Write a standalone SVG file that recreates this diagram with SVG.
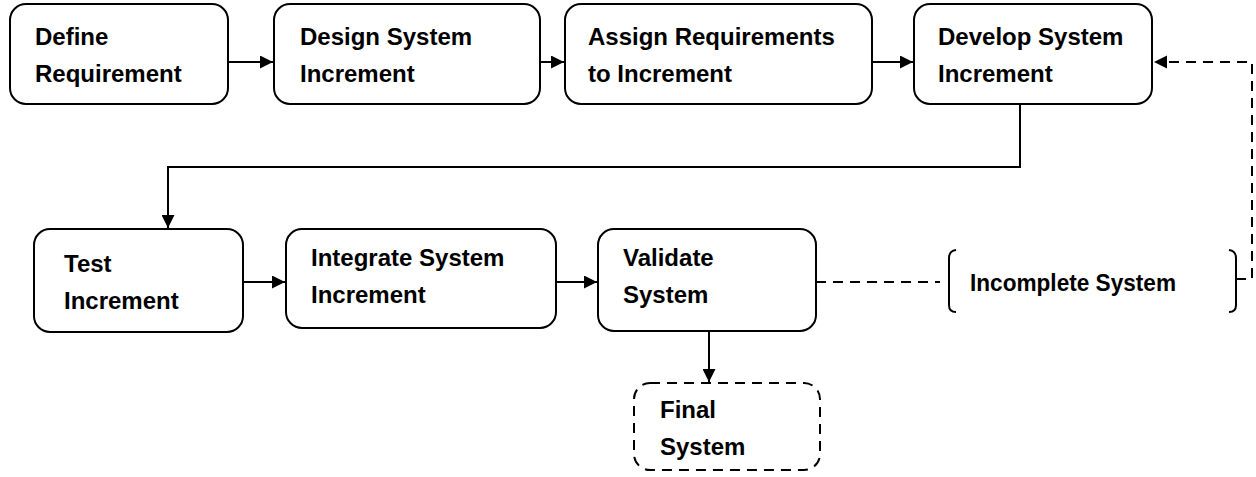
<svg xmlns="http://www.w3.org/2000/svg" width="1256" height="477" viewBox="0 0 1256 477">
<style>
.box{fill:#fff;stroke:#000;stroke-width:2}
.dbox{fill:#fff;stroke:#000;stroke-width:2;stroke-dasharray:10 7}
.t{font-family:"Liberation Sans",Arial,sans-serif;font-weight:bold;font-size:24px;fill:#000}
.ln{fill:none;stroke:#000;stroke-width:2}
.dl{fill:none;stroke:#000;stroke-width:2;stroke-dasharray:10 7}
</style>
<defs>
<marker id="ah" viewBox="0 0 13 13" refX="13" refY="6.5" markerWidth="13" markerHeight="13" markerUnits="userSpaceOnUse" orient="auto">
<path d="M0,0 L13,6.5 L0,13 Z" fill="#000"/>
</marker>
</defs>
<g id="connectors">
<line class="ln" x1="228" y1="62" x2="273" y2="62" marker-end="url(#ah)"/>
<line class="ln" x1="540" y1="62" x2="564" y2="62" marker-end="url(#ah)"/>
<line class="ln" x1="872" y1="62" x2="913" y2="62" marker-end="url(#ah)"/>
<polyline class="ln" points="1020,104 1020,167 168,167 168,228" marker-end="url(#ah)"/>
<line class="ln" x1="243" y1="282" x2="285" y2="282" marker-end="url(#ah)"/>
<line class="ln" x1="556" y1="282" x2="597" y2="282" marker-end="url(#ah)"/>
<line class="ln" x1="709" y1="331" x2="709" y2="382" marker-end="url(#ah)"/>
<line class="dl" x1="816" y1="282" x2="940" y2="282"/>
<polyline class="dl" points="1236,279 1252,279 1252,62 1158,62"/>
<path d="M1167,55.5 L1154,62 L1167,68.5 Z" fill="#000"/>
</g>
<g id="n1"><rect class="box" x="10" y="4" width="218" height="100" rx="16"/><text class="t" x="35" y="45">Define</text><text class="t" x="35" y="82">Requirement</text></g>
<g id="n2"><rect class="box" x="274" y="4" width="266" height="100" rx="16"/><text class="t" x="300" y="45">Design System</text><text class="t" x="300" y="82">Increment</text></g>
<g id="n3"><rect class="box" x="565" y="4" width="307" height="100" rx="16"/><text class="t" x="588" y="45">Assign Requirements</text><text class="t" x="588" y="82">to Increment</text></g>
<g id="n4"><rect class="box" x="914" y="4" width="238" height="100" rx="16"/><text class="t" x="938" y="45">Develop System</text><text class="t" x="938" y="82">Increment</text></g>
<g id="n5"><rect class="box" x="34" y="229" width="209" height="103" rx="16"/><text class="t" x="64" y="272">Test</text><text class="t" x="64" y="309">Increment</text></g>
<g id="n6"><rect class="box" x="286" y="229" width="270" height="99" rx="16"/><text class="t" x="311" y="266">Integrate System</text><text class="t" x="311" y="303">Increment</text></g>
<g id="n7"><rect class="box" x="598" y="229" width="218" height="102" rx="16"/><text class="t" x="623" y="266">Validate</text><text class="t" x="623" y="303">System</text></g>
<g id="n8"><path class="ln" d="M956,250 Q949,251 949,258 L949,305 Q949,312 956,312"/><path class="ln" d="M1229,250 Q1236,251 1236,258 L1236,305 Q1236,312 1229,312"/><text class="t" x="970" y="291" textLength="206" lengthAdjust="spacingAndGlyphs">Incomplete System</text></g>
<g id="n9"><rect class="dbox" x="634" y="383" width="186" height="87" rx="16"/><text class="t" x="660" y="418">Final</text><text class="t" x="660" y="455">System</text></g>
</svg>
